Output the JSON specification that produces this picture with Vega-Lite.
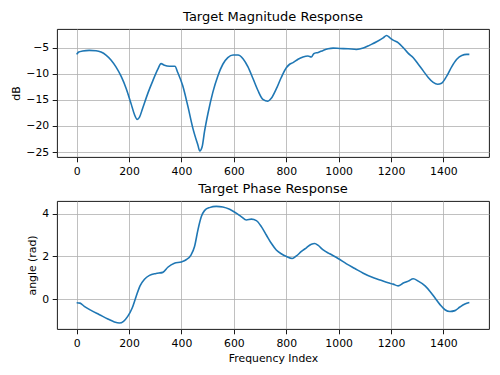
{
  "$schema": "https://vega.github.io/schema/vega-lite/v6.json",
  "background": "white",
  "padding": {"left": 10, "top": 10, "right": 5, "bottom": 5},
  "spacing": 5,
  "config": {
    "font": "DejaVu Sans",
    "view": {"stroke": "black", "strokeWidth": 0.9},
    "axis": {
      "domain": false,
      "grid": true,
      "gridColor": "#b0b0b0",
      "gridWidth": 0.8,
      "tickColor": "black",
      "tickSize": 4.8,
      "tickWidth": 0.9,
      "labelFont": "DejaVu Sans",
      "labelFontSize": 10.85,
      "labelColor": "black",
      "labelPadding": 3.5,
      "titleFont": "DejaVu Sans",
      "titleFontSize": 10.85,
      "titleFontWeight": "normal",
      "titleColor": "black"
    },
    "title": {"font": "DejaVu Sans", "fontSize": 13, "fontWeight": "normal", "color": "black", "offset": 5}
  },
  "datasets": {
    "mag": [
      {"i": 0, "v": -6.27}, {"i": 8, "v": -5.82}, {"i": 23, "v": -5.63}, {"i": 48, "v": -5.5}, {"i": 74, "v": -5.57},
      {"i": 93, "v": -5.82}, {"i": 112, "v": -6.4}, {"i": 131, "v": -7.34}, {"i": 150, "v": -8.67}, {"i": 170, "v": -10.5},
      {"i": 189, "v": -12.8}, {"i": 208, "v": -15.76}, {"i": 221, "v": -17.85}, {"i": 231, "v": -18.73}, {"i": 240, "v": -18.3},
      {"i": 252, "v": -16.6}, {"i": 272, "v": -13.7}, {"i": 291, "v": -11.3}, {"i": 310, "v": -9.1}, {"i": 322, "v": -8.04},
      {"i": 335, "v": -8.35}, {"i": 354, "v": -8.54}, {"i": 375, "v": -8.54}, {"i": 386, "v": -9.75}, {"i": 405, "v": -12.3},
      {"i": 424, "v": -16.1}, {"i": 444, "v": -20.5}, {"i": 463, "v": -23.7}, {"i": 470, "v": -24.8}, {"i": 479, "v": -24.0},
      {"i": 488, "v": -21.1}, {"i": 501, "v": -17.66}, {"i": 520, "v": -13.5}, {"i": 539, "v": -10.4}, {"i": 558, "v": -8.16},
      {"i": 577, "v": -6.9}, {"i": 597, "v": -6.39}, {"i": 616, "v": -6.39}, {"i": 635, "v": -7.09}, {"i": 654, "v": -8.67},
      {"i": 673, "v": -10.9}, {"i": 692, "v": -13.2}, {"i": 711, "v": -14.9}, {"i": 730, "v": -15.25}, {"i": 743, "v": -14.7},
      {"i": 762, "v": -12.9}, {"i": 781, "v": -10.7}, {"i": 801, "v": -8.8}, {"i": 813, "v": -8.16}, {"i": 826, "v": -7.85},
      {"i": 845, "v": -7.2}, {"i": 864, "v": -6.77}, {"i": 883, "v": -6.58}, {"i": 896, "v": -6.77}, {"i": 905, "v": -6.14},
      {"i": 922, "v": -5.89}, {"i": 941, "v": -5.5}, {"i": 960, "v": -5.19}, {"i": 979, "v": -5.06}, {"i": 1004, "v": -5.13},
      {"i": 1036, "v": -5.19}, {"i": 1068, "v": -5.32}, {"i": 1094, "v": -5.06}, {"i": 1119, "v": -4.49}, {"i": 1145, "v": -3.86},
      {"i": 1170, "v": -3.1}, {"i": 1183, "v": -2.66}, {"i": 1196, "v": -3.1}, {"i": 1208, "v": -3.54}, {"i": 1228, "v": -4.05},
      {"i": 1247, "v": -5.0}, {"i": 1266, "v": -6.08}, {"i": 1285, "v": -6.9}, {"i": 1304, "v": -8.16}, {"i": 1323, "v": -9.43},
      {"i": 1342, "v": -10.7}, {"i": 1361, "v": -11.65}, {"i": 1378, "v": -12.0}, {"i": 1393, "v": -11.8}, {"i": 1412, "v": -10.5},
      {"i": 1432, "v": -8.6}, {"i": 1451, "v": -7.2}, {"i": 1470, "v": -6.46}, {"i": 1489, "v": -6.27}, {"i": 1499, "v": -6.27}
    ],
    "phase": [
      {"i": 0, "v": -0.17}, {"i": 13, "v": -0.19}, {"i": 29, "v": -0.34}, {"i": 55, "v": -0.53}, {"i": 87, "v": -0.73},
      {"i": 119, "v": -0.93}, {"i": 144, "v": -1.07}, {"i": 163, "v": -1.12}, {"i": 179, "v": -1.04}, {"i": 195, "v": -0.81},
      {"i": 212, "v": -0.42}, {"i": 227, "v": 0.12}, {"i": 242, "v": 0.62}, {"i": 259, "v": 0.93}, {"i": 278, "v": 1.11},
      {"i": 303, "v": 1.2}, {"i": 329, "v": 1.25}, {"i": 348, "v": 1.49}, {"i": 373, "v": 1.68}, {"i": 399, "v": 1.74},
      {"i": 418, "v": 1.84}, {"i": 437, "v": 2.07}, {"i": 450, "v": 2.46}, {"i": 463, "v": 3.24}, {"i": 476, "v": 3.86},
      {"i": 488, "v": 4.14}, {"i": 507, "v": 4.28}, {"i": 533, "v": 4.34}, {"i": 558, "v": 4.31}, {"i": 584, "v": 4.2},
      {"i": 609, "v": 4.02}, {"i": 628, "v": 3.86}, {"i": 648, "v": 3.7}, {"i": 667, "v": 3.74}, {"i": 686, "v": 3.67},
      {"i": 705, "v": 3.39}, {"i": 724, "v": 3.0}, {"i": 743, "v": 2.61}, {"i": 762, "v": 2.3}, {"i": 781, "v": 2.12},
      {"i": 801, "v": 1.99}, {"i": 823, "v": 1.9}, {"i": 839, "v": 2.02}, {"i": 858, "v": 2.23}, {"i": 877, "v": 2.4},
      {"i": 896, "v": 2.57}, {"i": 909, "v": 2.6}, {"i": 922, "v": 2.51}, {"i": 941, "v": 2.3}, {"i": 966, "v": 2.12},
      {"i": 998, "v": 1.9}, {"i": 1030, "v": 1.65}, {"i": 1062, "v": 1.43}, {"i": 1094, "v": 1.21}, {"i": 1126, "v": 1.03},
      {"i": 1158, "v": 0.89}, {"i": 1189, "v": 0.76}, {"i": 1208, "v": 0.7}, {"i": 1227, "v": 0.62}, {"i": 1247, "v": 0.75},
      {"i": 1266, "v": 0.84}, {"i": 1285, "v": 0.95}, {"i": 1304, "v": 0.84}, {"i": 1330, "v": 0.62}, {"i": 1349, "v": 0.36},
      {"i": 1368, "v": 0.05}, {"i": 1387, "v": -0.26}, {"i": 1406, "v": -0.5}, {"i": 1425, "v": -0.58}, {"i": 1444, "v": -0.54},
      {"i": 1463, "v": -0.37}, {"i": 1482, "v": -0.23}, {"i": 1499, "v": -0.16}
    ]
  },
  "vconcat": [
    {
      "title": "Target Magnitude Response",
      "width": 432,
      "height": 128,
      "data": {"name": "mag"},
      "mark": {"type": "line", "color": "#1f77b4", "strokeWidth": 1.6, "interpolate": "monotone", "clip": true},
      "encoding": {
        "x": {"field": "i", "type": "quantitative", "scale": {"domain": [-75, 1574], "nice": false, "zero": false},
              "axis": {"values": [0, 200, 400, 600, 800, 1000, 1200, 1400], "format": "d", "title": null}},
        "y": {"field": "v", "type": "quantitative", "scale": {"domain": [-25.95, -1.4], "nice": false, "zero": false},
              "axis": {"values": [-25, -20, -15, -10, -5], "title": "dB"}}
      }
    },
    {
      "title": "Target Phase Response",
      "width": 432,
      "height": 128,
      "data": {"name": "phase"},
      "mark": {"type": "line", "color": "#1f77b4", "strokeWidth": 1.6, "interpolate": "monotone", "clip": true},
      "encoding": {
        "x": {"field": "i", "type": "quantitative", "scale": {"domain": [-75, 1574], "nice": false, "zero": false},
              "axis": {"values": [0, 200, 400, 600, 800, 1000, 1200, 1400], "format": "d", "title": "Frequency Index"}},
        "y": {"field": "v", "type": "quantitative", "scale": {"domain": [-1.4, 4.59], "nice": false, "zero": false},
              "axis": {"values": [0, 2, 4], "title": "angle (rad)"}}
      }
    }
  ]
}
